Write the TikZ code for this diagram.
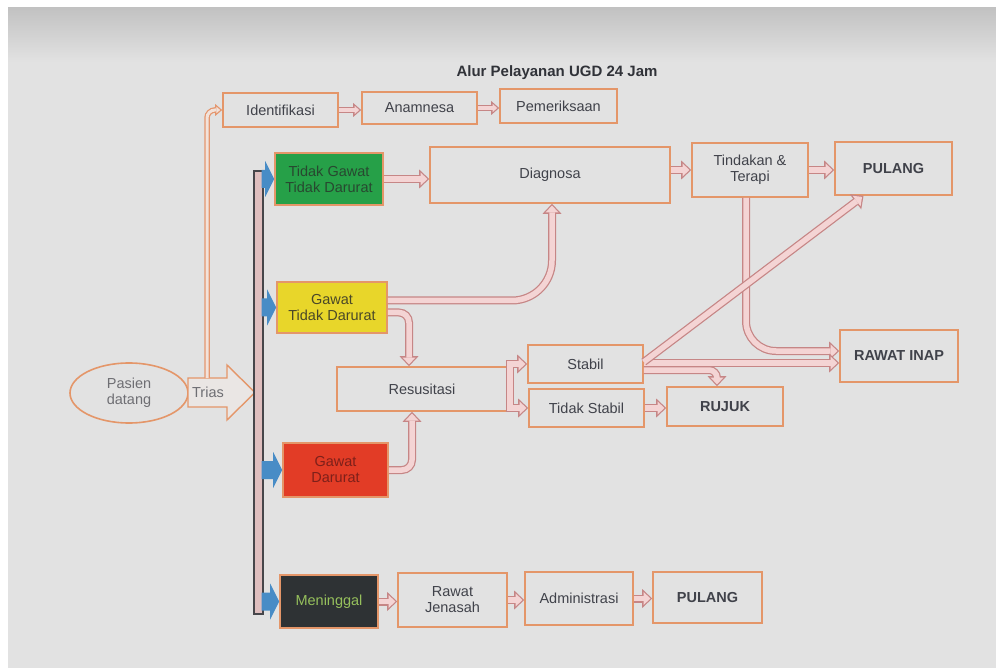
\documentclass[tikz,border=0pt]{standalone}
\usepackage{fontspec}
\setmainfont{Liberation Sans}
\usetikzlibrary{arrows.meta,shapes.geometric,calc}

\definecolor{bg}{RGB}{226,226,226}
\definecolor{boxedge}{RGB}{228,150,105}
\definecolor{pipeedge}{RGB}{198,134,134}
\definecolor{pipefill}{RGB}{244,212,212}
\definecolor{thinedge}{RGB}{228,150,110}
\definecolor{thinfill}{RGB}{242,226,218}
\definecolor{txt}{RGB}{64,66,74}
\definecolor{titletxt}{RGB}{48,50,56}
\definecolor{lighttxt}{RGB}{110,110,115}
\definecolor{triasfill}{RGB}{234,230,228}
\definecolor{greenbox}{RGB}{38,160,72}
\definecolor{greentxt}{RGB}{40,72,48}
\definecolor{yellowbox}{RGB}{232,214,42}
\definecolor{yellowtxt}{RGB}{74,72,40}
\definecolor{redbox}{RGB}{226,60,38}
\definecolor{redtxt}{RGB}{125,32,26}
\definecolor{darkbox}{RGB}{46,50,52}
\definecolor{darktxt}{RGB}{150,192,92}
\definecolor{triblue}{RGB}{72,140,198}
\definecolor{barfill}{RGB}{222,190,190}
\definecolor{baredge}{RGB}{70,70,74}

\begin{document}
\begin{tikzpicture}[x=1pt,y=-1pt,
  box/.style={draw=boxedge, line width=1.6pt, inner sep=1pt, align=center, text=txt, font=\fontsize{14.5}{16}\selectfont},
  boldbox/.style={box, font=\fontsize{14.5}{16}\selectfont\bfseries},
  pipe/.style={draw=pipeedge, line width=8pt, -{Triangle[length=10pt,width=19pt,line width=0pt]},
    postaction={draw=pipefill, line width=5.5pt, shorten >=1.8pt, -{Triangle[length=6.9pt,width=13.2pt,line width=0pt]}}},
  pipe small/.style={draw=pipeedge, line width=6.5pt, -{Triangle[length=8pt,width=14pt,line width=0pt]},
    postaction={draw=pipefill, line width=4pt, shorten >=1.9pt, -{Triangle[length=4.8pt,width=8.4pt,line width=0pt]}}},
  pipe thin/.style={draw=thinedge, line width=5.5pt, -{Triangle[length=7pt,width=12pt,line width=0pt]},
    postaction={draw=thinfill, line width=3pt, shorten >=2pt, -{Triangle[length=3.8pt,width=6.5pt,line width=0pt]}}}]
\useasboundingbox (0,0) rectangle (996,668);

% photographed screen
\fill[white] (0,0) rectangle (996,668);
\fill[bg] (8,8) rectangle (996,668);
\shade[top color=black!24, bottom color=bg] (8,8) rectangle (996,62);

\node[font=\fontsize{15}{17}\selectfont\bfseries, text=titletxt] (title) at (557,73) {Alur Pelayanan UGD 24 Jam};

% arrival and triage
\node[ellipse, draw=boxedge, line width=1.6pt, minimum width=118pt, minimum height=60pt,
  align=center, text=lighttxt, font=\fontsize{14.5}{16}\selectfont] (pasien) at (129,393) {Pasien\\datang};
\filldraw[fill=triasfill, draw=boxedge, line width=1.4pt] (188,378) -- (227,378) -- (227,365) -- (255,392.5)
  -- (227,420) -- (227,407) -- (188,407) -- cycle;
\node[text=lighttxt, font=\fontsize{14.5}{16}\selectfont] (trias) at (208,392.5) {Trias};
\coordinate (triastop) at (207,378);
\node[draw=baredge, fill=barfill, line width=1.2pt, minimum width=9pt, minimum height=443pt, inner sep=0pt] (bar) at (258.5,392.5) {};

% top row
\node[box, minimum width=115pt, minimum height=34pt] (ident) at (280.5,110) {Identifikasi};
\node[box, minimum width=115pt, minimum height=32pt] (anam) at (419.5,108) {Anamnesa};
\node[box, minimum width=117pt, minimum height=34pt] (pemer) at (558.5,106) {Pemeriksaan};

% triage classes
\node[box, fill=greenbox, text=greentxt, minimum width=108pt, minimum height=52pt] (tgtd) at (329,179) {Tidak Gawat\\Tidak Darurat};
\node[box, fill=yellowbox, text=yellowtxt, minimum width=110pt, minimum height=51pt] (gtd) at (332,307.5) {Gawat\\Tidak Darurat};
\node[box, fill=redbox, text=redtxt, minimum width=105pt, minimum height=54pt] (gd) at (335.5,470) {Gawat\\Darurat};
\node[box, fill=darkbox, text=darktxt, minimum width=98pt, minimum height=53pt] (mati) at (329,601.5) {Meninggal};

% treatment
\node[box, minimum width=240pt, minimum height=56pt] (diag) at (550,175) {Diagnosa};
\node[box, minimum width=116pt, minimum height=54pt] (tindakan) at (750,170) {Tindakan \&\\Terapi};
\node[boldbox, minimum width=117pt, minimum height=53pt] (pulang) at (893.5,168.5) {PULANG};
\node[box, minimum width=170pt, minimum height=44pt] (resus) at (422,389) {Resusitasi};
\node[box, minimum width=115pt, minimum height=38pt] (stabil) at (585.5,364) {Stabil};
\node[box, minimum width=115pt, minimum height=38pt] (tstabil) at (586.5,408) {Tidak Stabil};
\node[boldbox, minimum width=116pt, minimum height=39pt] (rujuk) at (725,406.5) {RUJUK};
\node[boldbox, minimum width=118pt, minimum height=52pt] (inap) at (899,356) {RAWAT INAP};

% bottom row
\node[box, minimum width=109pt, minimum height=54pt] (jenasah) at (452.5,600) {Rawat\\Jenasah};
\node[box, minimum width=108pt, minimum height=53pt] (admin) at (579,598.5) {Administrasi};
\node[boldbox, minimum width=109pt, minimum height=51pt] (pulangb) at (707.5,597.5) {PULANG};

% blue pointers from the bar
\foreach \b in {tgtd,gtd,gd,mati}
  \fill[triblue] (\b.west) -- ++(-9,-18) -- ++(0,9) -- ($(bar.east |- \b.west)+(-2,-9)$) -- ++(0,18)
    -- ($(\b.west)+(-9,9)$) -- ++(0,9) -- cycle;

% connectors
\draw[pipe thin, rounded corners=8pt] (triastop) |- (ident.west);
\draw[pipe small] (ident.east) -- (ident.east -| anam.west);
\draw[pipe small] (anam.east) -- (anam.east -| pemer.west);
\draw[pipe] (tgtd.east) -- (tgtd.east -| diag.west);
\draw[pipe] (diag.east |- tindakan.west) -- (tindakan.west);
\draw[pipe] (tindakan.east) -- (tindakan.east -| pulang.west);
\draw[pipe, rounded corners=40pt] ([yshift=7pt]gtd.east) -| ([xshift=2pt]diag.south);
\draw[pipe, rounded corners=10pt] ([yshift=-5pt]gtd.east) -| ([xshift=-13pt]resus.north);
\draw[pipe, rounded corners=10pt] (gd.east) -| ([xshift=-10pt]resus.south);
\coordinate (fork) at ([xshift=2pt]resus.east);
\draw[pipe] (fork) |- (tstabil.west);
\draw[pipe] (fork) |- (stabil.west);
\draw[pipe] (tstabil.east) -- (tstabil.east -| rujuk.west);
\draw[pipe, rounded corners=30pt] ([xshift=-4pt]tindakan.south) |- ([yshift=5pt]inap.west);
\draw[pipe] ([yshift=1pt]stabil.east) -- ([yshift=1pt]stabil.east -| inap.west);
\draw[pipe, rounded corners=8pt] ([yshift=-6pt]stabil.east) -| ([xshift=-8pt]rujuk.north);
\draw[pipe] ([yshift=2pt]stabil.east) -- ([xshift=-30pt]pulang.south);
\draw[pipe] (mati.east) -- (mati.east -| jenasah.west);
\draw[pipe] (jenasah.east) -- (jenasah.east -| admin.west);
\draw[pipe] (admin.east) -- (admin.east -| pulangb.west);
\end{tikzpicture}
\end{document}
